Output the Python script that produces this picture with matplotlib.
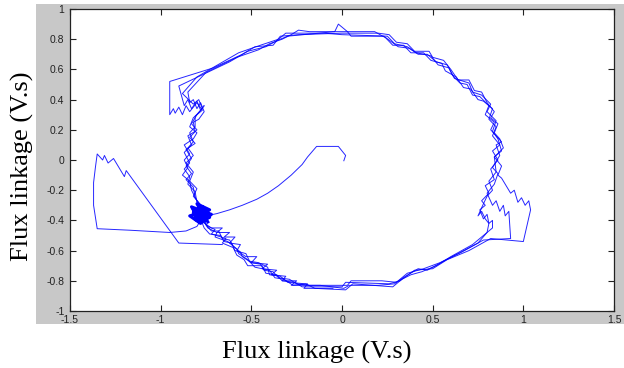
import numpy as np
import matplotlib
matplotlib.use("Agg")
import matplotlib.pyplot as plt
from matplotlib.patches import Rectangle

################################################################################
### DATA (flux alpha / beta in V.s)
################################################################################

# start-up transient: from origin, curve into the knot at (-0.78,-0.36)
transient = [(0.01, -0.005), (0.02, 0.03), (-0.02, 0.09), (-0.14, 0.09), (-0.19, 0.02),
             (-0.22, -0.03), (-0.28, -0.10), (-0.35, -0.17), (-0.41, -0.22), (-0.47, -0.26),
             (-0.55, -0.30), (-0.62, -0.33), (-0.69, -0.355), (-0.75, -0.37)]

# dense knot where the transient lands
knot = [(-0.76, -0.37), (-0.80, -0.33), (-0.74, -0.34), (-0.81, -0.39), (-0.77, -0.31),
        (-0.79, -0.41), (-0.73, -0.38), (-0.82, -0.35), (-0.76, -0.40), (-0.79, -0.32),
        (-0.75, -0.36), (-0.81, -0.37), (-0.77, -0.34), (-0.80, -0.40), (-0.74, -0.35),
        (-0.82, -0.33), (-0.78, -0.39), (-0.76, -0.32), (-0.80, -0.36), (-0.75, -0.40),
        (-0.79, -0.34), (-0.77, -0.38), (-0.81, -0.35), (-0.76, -0.35), (-0.78, -0.33),
        (-0.79, -0.38), (-0.75, -0.38), (-0.80, -0.37), (-0.83, -0.31), (-0.72, -0.36),
        (-0.78, -0.42), (-0.84, -0.37), (-0.73, -0.33), (-0.80, -0.29), (-0.74, -0.41)]

# knot -> far left excursion -> back onto the circle
excursion = [(-0.78, -0.40), (-0.80, -0.44), (-0.86, -0.47), (-0.95, -0.48), (-1.17, -0.465),
             (-1.35, -0.455), (-1.37, -0.30), (-1.37, -0.15), (-1.36, -0.05), (-1.35, 0.04),
             (-1.32, 0.00), (-1.31, 0.03), (-1.29, -0.02), (-1.26, 0.01), (-1.20, -0.11),
             (-1.19, -0.07), (-0.90, -0.55), (-0.66, -0.56)]

loop_a = [(-0.78, -0.36), (-0.74, -0.44), (-0.70, -0.46), (-0.72, -0.49), (-0.64, -0.52),
          (-0.66, -0.55), (-0.60, -0.58), (-0.58, -0.63), (-0.54, -0.66), (-0.52, -0.70),
          (-0.44, -0.70), (-0.42, -0.75), (-0.36, -0.76), (-0.33, -0.80), (-0.26, -0.81),
          (-0.22, -0.84), (-0.10, -0.84), (0.00, -0.84), (0.02, -0.81), (0.26, -0.82),
          (0.32, -0.80), (0.40, -0.73), (0.50, -0.72), (0.58, -0.66), (0.70, -0.60),
          (0.82, -0.52), (1.00, -0.54), (1.04, -0.33), (1.03, -0.27), (1.01, -0.30),
          (0.99, -0.25), (0.97, -0.28), (0.95, -0.20), (0.93, -0.22), (0.88, -0.12),
          (0.86, -0.10), (0.88, -0.04), (0.84, 0.02), (0.89, 0.08), (0.87, 0.14),
          (0.84, 0.18), (0.86, 0.24), (0.82, 0.28), (0.84, 0.32), (0.80, 0.38),
          (0.77, 0.45), (0.73, 0.46), (0.70, 0.53), (0.64, 0.53), (0.60, 0.60),
          (0.56, 0.66), (0.50, 0.68), (0.48, 0.72), (0.40, 0.72), (0.36, 0.77),
          (0.30, 0.78), (0.26, 0.83), (0.20, 0.84), (0.00, 0.84), (-0.24, 0.83),
          (-0.34, 0.82), (-0.38, 0.76), (-0.48, 0.75), (-0.55, 0.70), (-0.71, 0.61),
          (-0.95, 0.52), (-0.95, 0.30), (-0.93, 0.34), (-0.92, 0.31), (-0.90, 0.35),
          (-0.88, 0.30), (-0.86, 0.36), (-0.84, 0.32), (-0.80, 0.38), (-0.77, 0.33),
          (-0.82, 0.28), (-0.84, 0.22), (-0.80, 0.18), (-0.82, 0.14), (-0.87, 0.10),
          (-0.84, 0.04), (-0.87, 0.00), (-0.85, -0.05), (-0.88, -0.10), (-0.84, -0.14),
          (-0.83, -0.20), (-0.80, -0.27), (-0.78, -0.36)]

loop_b = [(-0.78, -0.36), (-0.75, -0.43), (-0.72, -0.47), (-0.68, -0.47), (-0.66, -0.52),
          (-0.62, -0.53), (-0.60, -0.57), (-0.56, -0.61), (-0.55, -0.64), (-0.50, -0.68),
          (-0.45, -0.69), (-0.43, -0.73), (-0.38, -0.74), (-0.35, -0.78), (-0.29, -0.79),
          (-0.25, -0.82), (-0.18, -0.83), (0.03, -0.83), (0.05, -0.80), (0.22, -0.80),
          (0.30, -0.81), (0.35, -0.77), (0.42, -0.72), (0.47, -0.73), (0.56, -0.67),
          (0.66, -0.61), (0.78, -0.53), (0.93, -0.52), (0.92, -0.34), (0.90, -0.37),
          (0.89, -0.30), (0.87, -0.34), (0.85, -0.27), (0.83, -0.30), (0.80, -0.22),
          (0.84, -0.16), (0.86, -0.09), (0.83, -0.05), (0.87, 0.03), (0.85, 0.10),
          (0.88, 0.12), (0.82, 0.20), (0.84, 0.25), (0.79, 0.30), (0.81, 0.36),
          (0.76, 0.42), (0.72, 0.43), (0.69, 0.50), (0.65, 0.51), (0.61, 0.56),
          (0.58, 0.63), (0.52, 0.65), (0.47, 0.70), (0.42, 0.70), (0.37, 0.74),
          (0.31, 0.75), (0.23, 0.82), (0.05, 0.82), (0.03, 0.85), (-0.02, 0.90),
          (-0.04, 0.85), (-0.30, 0.82), (-0.36, 0.79), (-0.42, 0.75), (-0.52, 0.72),
          (-0.62, 0.65), (-0.90, 0.49), (-0.87, 0.36), (-0.85, 0.40), (-0.83, 0.34),
          (-0.80, 0.39), (-0.78, 0.33), (-0.76, 0.36), (-0.80, 0.30), (-0.83, 0.24),
          (-0.80, 0.20), (-0.84, 0.15), (-0.81, 0.11), (-0.86, 0.07), (-0.83, 0.01),
          (-0.86, -0.04), (-0.83, -0.09), (-0.86, -0.13), (-0.82, -0.18), (-0.81, -0.25),
          (-0.78, -0.30), (-0.79, -0.36)]

loop_c = [(-0.79, -0.36), (-0.76, -0.45), (-0.73, -0.49), (-0.67, -0.50), (-0.65, -0.54),
          (-0.61, -0.55), (-0.59, -0.60), (-0.53, -0.62), (-0.51, -0.67), (-0.46, -0.68),
          (-0.41, -0.71), (-0.40, -0.76), (-0.34, -0.77), (-0.30, -0.81), (-0.20, -0.82),
          (-0.15, -0.85), (0.02, -0.86), (0.06, -0.82), (0.28, -0.84), (0.33, -0.79),
          (0.38, -0.76), (0.44, -0.74), (0.52, -0.70), (0.60, -0.64), (0.72, -0.56),
          (0.83, -0.45), (0.83, -0.40), (0.81, -0.42), (0.80, -0.36), (0.78, -0.39),
          (0.76, -0.33), (0.79, -0.30), (0.77, -0.27), (0.81, -0.22), (0.79, -0.17),
          (0.84, -0.13), (0.82, -0.06), (0.86, 0.00), (0.83, 0.06), (0.87, 0.10),
          (0.83, 0.16), (0.85, 0.22), (0.81, 0.27), (0.83, 0.34), (0.78, 0.39),
          (0.75, 0.40), (0.71, 0.47), (0.67, 0.48), (0.63, 0.55), (0.57, 0.59),
          (0.55, 0.64), (0.49, 0.66), (0.45, 0.71), (0.38, 0.71), (0.34, 0.76),
          (0.28, 0.76), (0.24, 0.81), (0.18, 0.85), (-0.02, 0.85), (-0.18, 0.85),
          (-0.24, 0.86), (-0.28, 0.83), (-0.33, 0.80), (-0.40, 0.77), (-0.46, 0.73),
          (-0.58, 0.68), (-0.75, 0.58), (-0.85, 0.45), (-0.84, 0.38), (-0.82, 0.40),
          (-0.80, 0.34), (-0.78, 0.38), (-0.76, 0.32), (-0.79, 0.27), (-0.82, 0.25),
          (-0.81, 0.19), (-0.85, 0.16), (-0.83, 0.10), (-0.87, 0.05), (-0.84, -0.02),
          (-0.87, -0.06), (-0.84, -0.11), (-0.85, -0.16), (-0.81, -0.21), (-0.80, -0.28),
          (-0.78, -0.36)]

loop_d = [(-0.78, -0.37), (-0.74, -0.45), (-0.69, -0.48), (-0.70, -0.51), (-0.63, -0.54),
          (-0.58, -0.59), (-0.57, -0.62), (-0.52, -0.66), (-0.48, -0.71), (-0.40, -0.73),
          (-0.37, -0.78), (-0.32, -0.79), (-0.27, -0.83), (-0.12, -0.83), (0.01, -0.85),
          (0.04, -0.83), (0.20, -0.83), (0.29, -0.82), (0.36, -0.75), (0.45, -0.72),
          (0.54, -0.68), (0.64, -0.62), (0.75, -0.55), (0.80, -0.48), (0.81, -0.42),
          (0.79, -0.39), (0.77, -0.34), (0.75, -0.37), (0.78, -0.29), (0.80, -0.24),
          (0.83, -0.20), (0.81, -0.14), (0.85, -0.08), (0.84, 0.02), (0.88, 0.06),
          (0.86, 0.14), (0.83, 0.19), (0.85, 0.26), (0.80, 0.32), (0.82, 0.37),
          (0.77, 0.43), (0.72, 0.45), (0.70, 0.51), (0.62, 0.54), (0.59, 0.61),
          (0.53, 0.63), (0.49, 0.69), (0.41, 0.71), (0.36, 0.75), (0.29, 0.77),
          (0.25, 0.82), (0.00, 0.83), (-0.10, 0.84), (-0.31, 0.84), (-0.35, 0.80),
          (-0.45, 0.76), (-0.57, 0.71), (-0.70, 0.62), (-0.80, 0.55), (-0.88, 0.44),
          (-0.82, 0.37), (-0.79, 0.40), (-0.77, 0.34), (-0.81, 0.29), (-0.81, 0.22),
          (-0.84, 0.18), (-0.82, 0.12), (-0.85, 0.08), (-0.82, 0.03), (-0.86, -0.02),
          (-0.82, -0.08), (-0.84, -0.14), (-0.80, -0.19), (-0.82, -0.24), (-0.77, -0.31),
          (-0.78, -0.36)]

# extra pass through the stepped lower-left arc (ladder of short horizontal steps)
ladder = [(-0.77, -0.41), (-0.72, -0.45), (-0.66, -0.45), (-0.69, -0.48), (-0.62, -0.48),
          (-0.65, -0.51), (-0.59, -0.51), (-0.62, -0.55), (-0.56, -0.56), (-0.58, -0.60),
          (-0.53, -0.64), (-0.47, -0.64), (-0.50, -0.68), (-0.41, -0.69), (-0.44, -0.72),
          (-0.36, -0.73), (-0.39, -0.76), (-0.31, -0.77), (-0.33, -0.80), (-0.25, -0.80),
          (-0.28, -0.83), (-0.19, -0.82), (-0.21, -0.85), (-0.05, -0.85)]

x_ticks = [-1.5, -1, -0.5, 0, 0.5, 1, 1.5]
x_tick_labels = ['-1.5', '-1', '-0.5', '0', '0.5', '1', '1.5']
y_ticks = [-1, -0.8, -0.6, -0.4, -0.2, 0, 0.2, 0.4, 0.6, 0.8, 1]
y_tick_labels = ['-1', '-0.8', '-0.6', '-0.4', '-0.2', '0', '0.2', '0.4', '0.6', '0.8', '1']
axis_label = 'Flux linkage (V.s)'

################################################################################
### PLOT
################################################################################

W, H = 624, 368
fig = plt.figure(figsize=(W / 100, H / 100), dpi=100)
fig.patch.set_facecolor('white')

# grey matlab figure panel behind the axes
fig.patches.append(Rectangle((36 / W, 1 - 324 / H), 588 / W, 320 / H,
                             transform=fig.transFigure, facecolor='#c8c8c8',
                             edgecolor='none', zorder=-5))

ax = fig.add_axes([70 / W, 1 - 311 / H, 544 / W, 302 / H])
ax.set_zorder(5)
ax.set_facecolor('white')

line_kw = dict(color='#0000ff', lw=0.7, alpha=0.85)
for seg in [transient, knot, excursion, loop_a, loop_b, loop_c, loop_d, ladder]:
    xy = np.array(seg)
    ax.plot(xy[:, 0], xy[:, 1], **line_kw)
xy = np.array(knot)
ax.plot(xy[:, 0], xy[:, 1], color='#0000ff', lw=2.2)

ax.set_xlim(-1.5, 1.5)
ax.set_ylim(-1, 1)
ax.set_xticks(x_ticks)
ax.set_xticklabels(x_tick_labels)
ax.set_yticks(y_ticks)
ax.set_yticklabels(y_tick_labels)
ax.tick_params(direction='in', length=4, width=0.8, top=True, right=True,
               labelsize=7.5, colors='#222222')
ax.tick_params(axis='x', pad=3)
ax.tick_params(axis='y', pad=4)
for lab in ax.get_xticklabels() + ax.get_yticklabels():
    lab.set_fontfamily('Liberation Sans')
for sp in ax.spines.values():
    sp.set_linewidth(0.9)
    sp.set_color('#222222')

fig.text(317 / W, 1 - 352 / H, axis_label, ha='center', va='center',
         fontsize=19, family='Liberation Serif')
fig.text(22 / W, 1 - 166 / H, axis_label, ha='center', va='center', rotation=90,
         fontsize=19, family='Liberation Serif')

plt.savefig('out.png', dpi=100)
